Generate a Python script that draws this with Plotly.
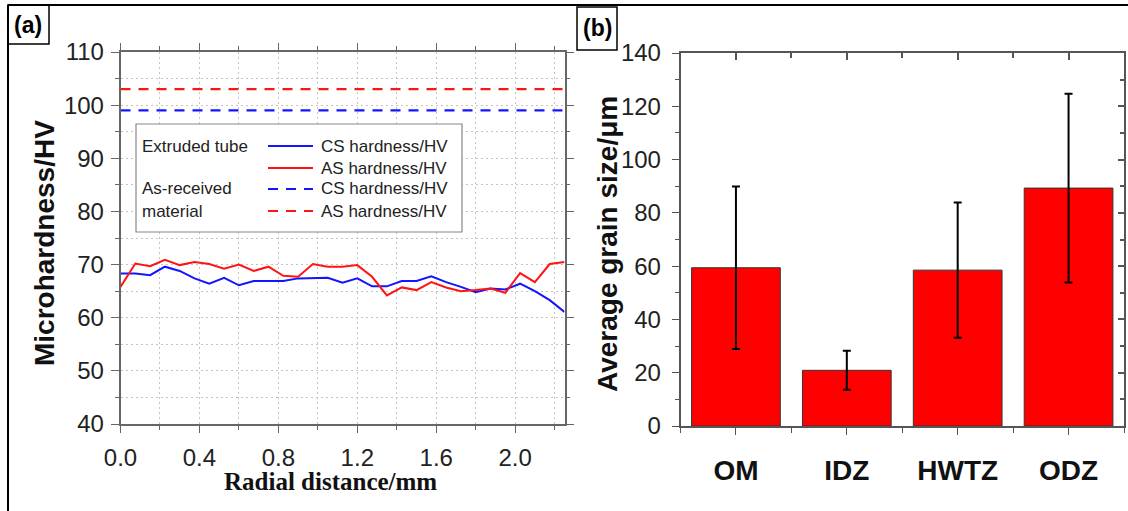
import plotly.graph_objects as go

# ---------------- data ----------------
radial_mm = [0.0, 0.075, 0.15, 0.225, 0.3, 0.375, 0.45, 0.525, 0.6, 0.675,
             0.75, 0.825, 0.9, 0.975, 1.05, 1.125, 1.2, 1.275, 1.35, 1.425,
             1.5, 1.575, 1.65, 1.725, 1.8, 1.875, 1.95, 2.025, 2.1, 2.175, 2.25]
cs_extruded = [68.3, 68.3, 68.0, 69.6, 68.8, 67.4, 66.4, 67.5, 66.1, 66.9,
               66.9, 66.9, 67.4, 67.5, 67.5, 66.6, 67.4, 65.9, 65.9, 66.9,
               66.9, 67.8, 66.7, 65.8, 64.8, 65.5, 65.3, 66.4, 65.0, 63.3, 61.1]
as_extruded = [65.8, 70.2, 69.7, 70.9, 69.9, 70.5, 70.1, 69.2, 70.0, 68.8,
               69.6, 67.9, 67.7, 70.1, 69.6, 69.6, 69.9, 67.7, 64.2, 65.7,
               65.2, 66.7, 65.7, 65.0, 65.2, 65.5, 64.7, 68.4, 66.7, 70.1, 70.5]
cs_received = 99.0
as_received = 103.0

zones = ["OM", "IDZ", "HWTZ", "ODZ"]
grain_size = [59.4, 20.9, 58.5, 89.3]
grain_err = [30.5, 7.3, 25.4, 35.4]

# ---------------- helpers ----------------
W, H = 1128, 511
def px(x):
    return x / W
def py(y):
    return 1 - y / H

BLUE = "rgb(20,20,255)"
RED = "rgb(255,20,20)"
TICKFONT = dict(family="Liberation Sans, Arial", size=24, color="#222")
GRID = dict(showgrid=True, gridcolor="#c4c4c4", griddash="2px,3px", gridwidth=1)

fig = go.Figure()

# ---------------- panel (a) ----------------
fig.add_trace(go.Scatter(x=radial_mm, y=cs_extruded, mode="lines",
                         line=dict(color=BLUE, width=2), xaxis="x", yaxis="y",
                         showlegend=False))
fig.add_trace(go.Scatter(x=radial_mm, y=as_extruded, mode="lines",
                         line=dict(color=RED, width=2), xaxis="x", yaxis="y",
                         showlegend=False))
xr = [radial_mm[0], radial_mm[-1]]
fig.add_trace(go.Scatter(x=xr, y=[cs_received] * 2, mode="lines",
                         line=dict(color=BLUE, width=2.2, dash="10px,8px"),
                         xaxis="x", yaxis="y", showlegend=False))
fig.add_trace(go.Scatter(x=xr, y=[as_received] * 2, mode="lines",
                         line=dict(color=RED, width=2.2, dash="10px,8px"),
                         xaxis="x", yaxis="y", showlegend=False))

# ---------------- panel (b) ----------------
xpos = list(range(len(zones)))
bounds = [-0.5, 0.5, 1.5, 2.5, 3.5]
fig.add_trace(go.Bar(x=xpos, y=grain_size, width=0.8,
                     marker=dict(color="rgb(255,0,0)",
                                 line=dict(color="#333", width=1)),
                     error_y=dict(type="data", array=grain_err, visible=True,
                                  color="black", thickness=2, width=4),
                     xaxis="x2", yaxis="y2", showlegend=False))
# empty trace so the inward-tick overlay axes (top/right of panel b) exist
fig.add_trace(go.Scatter(x=[], y=[], xaxis="x3", yaxis="y3",
                         showlegend=False, hoverinfo="skip"))

fig.update_layout(
    width=W, height=H,
    margin=dict(l=0, r=0, t=0, b=0, autoexpand=False),
    paper_bgcolor="white", plot_bgcolor="white",
    xaxis=dict(domain=[px(120.5), px(564.5)], range=[0, 2.25], dtick=0.4,
               tickformat=".1f", showline=True, mirror="ticks",
               linecolor="#666", linewidth=1.5, tickcolor="#666",
               ticks="outside", ticklen=7, zeroline=False, automargin=False,
               tickfont=TICKFONT, **GRID,
               minor=dict(dtick=0.2, ticks="outside", ticklen=4,
                          tickcolor="#666", **GRID),
               ticklabelstandoff=4, anchor="y"),
    yaxis=dict(domain=[py(424), py(52)], range=[40, 110], dtick=10,
               showline=True, mirror="ticks",
               linecolor="#666", linewidth=1.5, tickcolor="#666",
               ticks="outside", ticklen=8, zeroline=False, automargin=False,
               tickfont=TICKFONT, **GRID,
               minor=dict(dtick=5, ticks="outside", ticklen=4,
                          tickcolor="#666", **GRID),
               ticklabelstandoff=2, anchor="x"),
    xaxis2=dict(domain=[px(680.5), px(1124)], range=[-0.5, 3.5],
                tickmode="array", tickvals=xpos, ticktext=zones,
                tickfont=dict(family="Liberation Sans, Arial", size=28,
                              color="#111", weight="bold"),
                showline=True, mirror=True, linecolor="#555", linewidth=1.5,
                tickcolor="#555", ticks="outside", ticklen=7,
                showgrid=False, zeroline=False, automargin=False,
                minor=dict(tickmode="array", tickvals=bounds,
                           ticks="outside", ticklen=5, tickcolor="#555"),
                ticklabelstandoff=12, anchor="y2"),
    yaxis2=dict(domain=[py(426), py(53)], range=[0, 140], dtick=20,
                showline=True, mirror=True, linecolor="#555", linewidth=1.5,
                tickcolor="#555", ticks="outside", ticklen=7,
                showgrid=False, zeroline=False, automargin=False,
                tickfont=TICKFONT,
                minor=dict(dtick=10, ticks="outside", ticklen=4,
                           tickcolor="#555"),
                ticklabelstandoff=6, anchor="x2"),
    xaxis3=dict(overlaying="x2", side="top", anchor="y2", range=[-0.5, 3.5],
                tickmode="array", tickvals=xpos, showticklabels=False,
                ticks="inside", ticklen=7, tickcolor="#555", tickwidth=1.5,
                showline=False, showgrid=False, zeroline=False,
                automargin=False,
                minor=dict(tickmode="array", tickvals=bounds,
                           ticks="inside", ticklen=5, tickcolor="#555")),
    yaxis3=dict(overlaying="y2", side="right", anchor="x2", range=[0, 140],
                dtick=20, showticklabels=False,
                ticks="inside", ticklen=6, tickcolor="#555", tickwidth=1.5,
                showline=False, showgrid=False, zeroline=False,
                automargin=False,
                minor=dict(dtick=10, ticks="inside", ticklen=4,
                           tickcolor="#555")),
)

# ---------------- titles ----------------
ann = []
ann.append(dict(text="Microhardness/HV", x=px(44), y=py(243), xref="paper",
                yref="paper", showarrow=False, textangle=-90,
                font=dict(family="Liberation Sans, Arial", size=28,
                          color="#111", weight="bold"),
                xanchor="center", yanchor="middle"))
ann.append(dict(text="Radial distance/mm", x=px(330), y=py(481), xref="paper",
                yref="paper", showarrow=False,
                font=dict(family="Liberation Serif, Times New Roman", size=25,
                          color="#111", weight="bold"),
                xanchor="center", yanchor="middle"))
ann.append(dict(text="Average grain size/μm", x=px(607), y=py(244),
                xref="paper", yref="paper", showarrow=False, textangle=-90,
                font=dict(family="Liberation Sans, Arial", size=28,
                          color="#111", weight="bold"),
                xanchor="center", yanchor="middle"))
ann.append(dict(text="(a)", x=px(28), y=py(25), xref="paper", yref="paper",
                showarrow=False, xanchor="center", yanchor="middle",
                font=dict(family="Liberation Sans, Arial", size=23,
                          color="black", weight="bold")))
ann.append(dict(text="(b)", x=px(597), y=py(28), xref="paper", yref="paper",
                showarrow=False, xanchor="center", yanchor="middle",
                font=dict(family="Liberation Sans, Arial", size=23,
                          color="black", weight="bold")))

# ---------------- manual legend ----------------
LEGFONT = dict(family="Liberation Sans, Arial", size=17, color="#222")
rows_y = [146, 168, 189, 211]
leg_items = [("CS hardness/HV", BLUE, "solid"),
             ("AS hardness/HV", RED, "solid"),
             ("CS hardness/HV", BLUE, "10px,8px"),
             ("AS hardness/HV", RED, "10px,8px")]
shapes = []
shapes.append(dict(type="rect", xref="paper", yref="paper",
                   x0=px(136), x1=px(462), y0=py(232), y1=py(124),
                   line=dict(color="#888", width=1.2), fillcolor="white",
                   layer="above"))
for (label, col, dash), ry in zip(leg_items, rows_y):
    shapes.append(dict(type="line", xref="paper", yref="paper",
                       x0=px(268), x1=px(313), y0=py(ry), y1=py(ry),
                       line=dict(color=col, width=2, dash=dash),
                       layer="above"))
    ann.append(dict(text=label, x=px(319), y=py(ry), xref="paper",
                    yref="paper", showarrow=False, xanchor="left",
                    yanchor="middle", font=LEGFONT))
for label, ry in [("Extruded tube", 146), ("As-received", 189),
                  ("material", 211)]:
    ann.append(dict(text=label, x=px(140), y=py(ry), xref="paper",
                    yref="paper", showarrow=False, xanchor="left",
                    yanchor="middle", font=LEGFONT))

# ---------------- frame and label boxes ----------------
shapes.append(dict(type="line", xref="paper", yref="paper",
                   x0=px(8), x1=1, y0=py(5), y1=py(5),
                   line=dict(color="black", width=2)))
shapes.append(dict(type="line", xref="paper", yref="paper",
                   x0=px(8), x1=px(8), y0=0, y1=py(5),
                   line=dict(color="black", width=2)))
shapes.append(dict(type="rect", xref="paper", yref="paper",
                   x0=px(8), x1=px(49), y0=py(44), y1=py(5),
                   line=dict(color="black", width=1.5)))
shapes.append(dict(type="rect", xref="paper", yref="paper",
                   x0=px(577), x1=px(617), y0=py(50), y1=py(7),
                   line=dict(color="black", width=1.5)))

fig.update_layout(annotations=ann, shapes=shapes)

fig.write_html(
    "out.html",
    config={"displayModeBar": False},
    post_script=("document.body.style.margin='0';"
                 "document.body.style.overflow='hidden';"
                 "document.documentElement.style.overflow='hidden';"),
)
